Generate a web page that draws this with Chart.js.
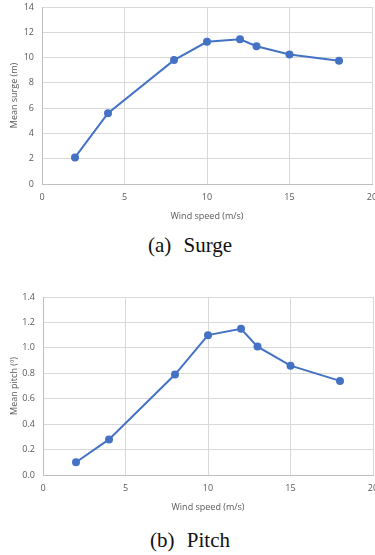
<!DOCTYPE html>
<html>
<head>
<meta charset="utf-8">
<script src="https://cdn.jsdelivr.net/npm/chart.js@4.4.1/dist/chart.umd.min.js"></script>
<style>
  body { margin: 0; width: 375px; height: 555px; background: #fff; position: relative; overflow: hidden; }
  .box { position: absolute; left: 0; width: 375px; }
  .caption { position: absolute; left: 0; width: 380px; text-align: center; font-family: "Liberation Serif", serif; font-size: 21px; word-spacing: 7px; color: #111; }
</style>
</head>
<body>
<div class="box" style="top:0;height:222px"><canvas id="surgeChart"></canvas></div>
<div class="caption" style="top:233px">(a) Surge</div>
<div class="box" style="top:280px;height:233px"><canvas id="pitchChart"></canvas></div>
<div class="caption" style="top:528px">(b) Pitch</div>
<script>
// datos
const windSpeed = [2, 4, 8, 10, 12, 13, 15, 18];
const meanSurge = [2.1, 5.6, 9.8, 11.25, 11.45, 10.9, 10.25, 9.75];
const meanPitch = [0.10, 0.28, 0.79, 1.10, 1.15, 1.01, 0.86, 0.74];

const tickFont = { family: 'Open Sans', size: 9 };
const textColor = '#595959';

// quita el relleno automático que Chart.js deja para las etiquetas de los extremos
const noPad = (scale) => {
    scale.paddingLeft = 0;
    scale.paddingRight = 0;
    scale.paddingTop = 0;
    scale.paddingBottom = 0;
};

const makeChart = (id, values, yTitle, yMax, yStep, yWidth, pad, decimals) => {
    const ctx = document.getElementById(id).getContext('2d');
    return new Chart(ctx, {
        type: 'scatter',
        data: {
            datasets: [{
                data: windSpeed.map((x, i) => ({ x, y: values[i] })),
                showLine: true,
                borderColor: '#4472C4',
                backgroundColor: '#4472C4',
                borderWidth: 2,
                pointRadius: 3,
            }],
        },
        options: {
            responsive: true,
            maintainAspectRatio: false,
            animation: false,
            layout: { autoPadding: false, padding: pad },
            plugins: { legend: { display: false }, tooltip: { enabled: false } },
            scales: {
                x: {
                    type: 'linear', min: 0, max: 20,
                    ticks: { stepSize: 5, color: textColor, font: tickFont, padding: 8 },
                    grid: { color: '#d9d9d9', drawTicks: false },
                    border: { color: '#bfbfbf' },
                    title: { display: true, text: 'Wind speed (m/s)', color: textColor, font: tickFont, padding: 0 },
                    afterFit: (scale) => { scale.height = 38; noPad(scale); },
                },
                y: {
                    min: 0, max: yMax,
                    ticks: {
                        stepSize: yStep, color: textColor, font: tickFont, padding: 8,
                        callback: (v) => v.toFixed(decimals),
                    },
                    grid: { color: '#d9d9d9', drawTicks: false },
                    border: { color: '#bfbfbf' },
                    title: { display: true, text: yTitle, color: textColor, font: tickFont, padding: { top: 9, bottom: 0 } },
                    afterFit: (scale) => { scale.width = yWidth; noPad(scale); },
                },
            },
        },
    });
};

makeChart('surgeChart', meanSurge, 'Mean surge (m)', 14, 2, 42, { top: 7, right: 3, left: 0, bottom: 0 }, 0);
makeChart('pitchChart', meanPitch, 'Mean pitch (º)', 1.4, 0.2, 43, { top: 17, right: 2, left: 0, bottom: 0 }, 1);
</script>
</body>
</html>
